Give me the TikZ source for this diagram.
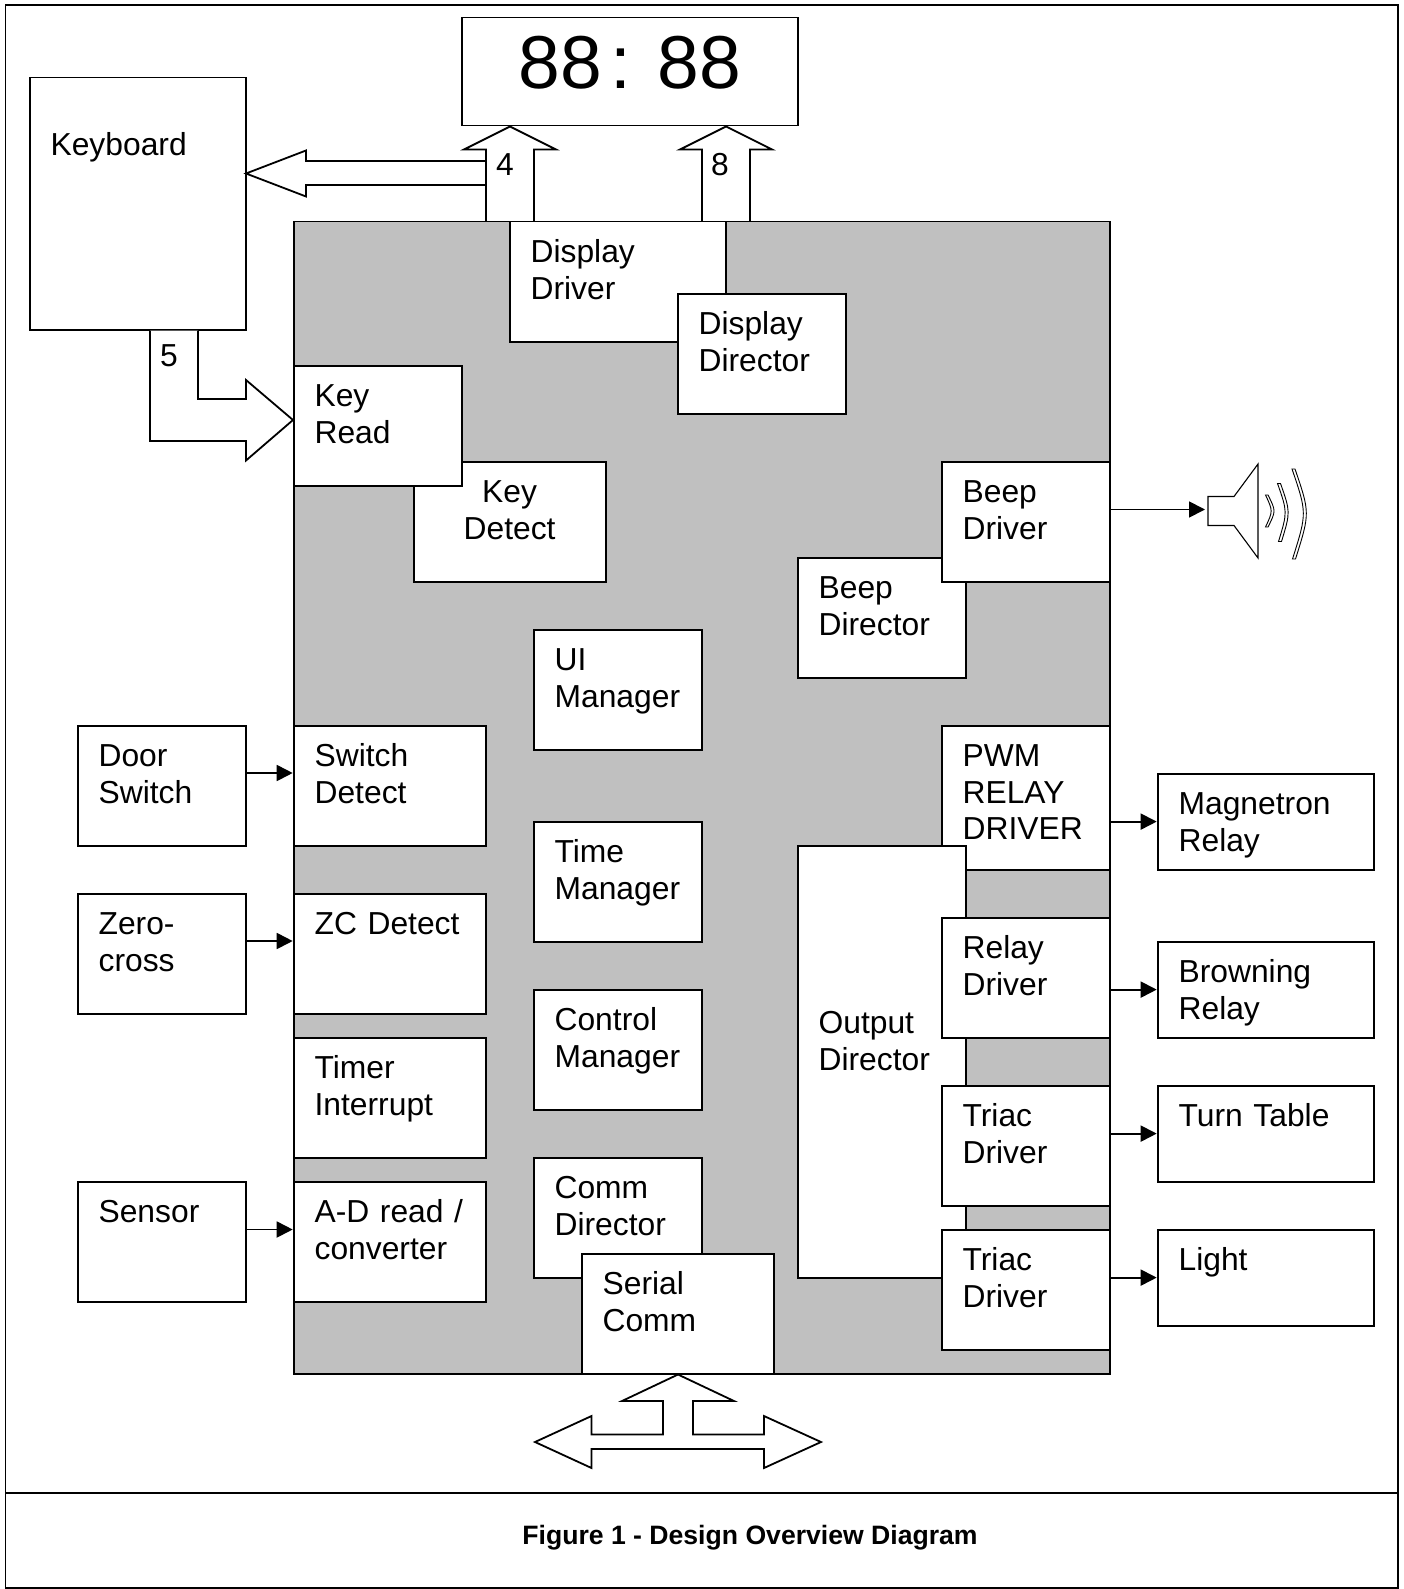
\documentclass[tikz,border=0pt]{standalone}
\usepackage{fontspec}
\setmainfont{Liberation Sans}
\usetikzlibrary{arrows.meta}

\begin{document}
\begin{tikzpicture}[
    x=1pt, y=-1pt,
    line width=1.8pt,
    font=\fontsize{31.8}{36.5}\selectfont,
    block/.style 2 args={draw, fill=white, anchor=north west, align=left, inner xsep=21pt, inner ysep=0pt,
      xshift=-1.3pt, yshift=1.3pt, text width=#1pt-42pt, text height=41.3pt, text depth=#2pt-41.3pt},
    chip/.style={fill={rgb,255:red,192;green,192;blue,192}},
    bus/.style={fill=white, line join=miter},
    sig/.style={-{Triangle[length=16pt,width=16pt]}},
    lab/.style={inner sep=0pt},
    horn/.style={line width=1.1pt},
    wave/.style={line width=0.9pt, fill=white}
  ]
    \useasboundingbox (0,0) rectangle (1404,1589);
    \draw (5.5,5) rectangle (1398,1588);
    \draw (5.5,1493) -- (1398,1493);

    % display and keyboard
    \node[block={336}{108}, align=center, font=\fontsize{75}{90}\selectfont, text height=71pt, text depth=37pt] (display) at (462,18) {88\hspace{9pt}:\hspace{25.9pt}88};
    \node[block={216}{252}, text height=78pt, text depth=174pt] (keyboard) at (30,78) {Keyboard};

    % bus arrows
    \filldraw[bus] (486,161) -- (306,161) -- (306,150.5) -- (246,173.5) -- (306,196.5) -- (306,185) -- (486,185);
    \filldraw[bus] (486,222) -- (486,149.5) -- (464,149.5) -- (510,0 |- display.south) -- (556,149.5) -- (534,149.5) -- (534,222);
    \filldraw[bus] (702,222) -- (702,149.5) -- (680,149.5) -- (726,0 |- display.south) -- (772,149.5) -- (750,149.5) -- (750,222);
    \filldraw[bus] (198,0 |- keyboard.south) -- (198,399) -- (246,399) -- (246,380) -- (293,420) -- (246,460.5) -- (246,441) -- (150,441) -- (150,0 |- keyboard.south);

    \node[block={816}{1152}, chip] (mcu) at (294,222) {};

    \node[block={216}{120}] (dispdriver) at (510,222) {Display\\Driver};
    \node[block={168}{120}] (dispdirector) at (678,294) {Display\\Director};
    \node[block={192}{120}, align=center] (keydetect) at (414,462) {Key\\Detect};
    \node[block={168}{120}] (keyread) at (294,366) {Key\\Read};
    \node[block={168}{120}] (beepdirector) at (798,558) {Beep\\Director};
    \node[block={168}{120}] (beepdriver) at (942,462) {Beep\\Driver};

    \node[block={168}{120}] (uiman) at (534,630) {UI\\Manager};
    \node[block={168}{120}] (timeman) at (534,822) {Time\\Manager};
    \node[block={168}{120}] (ctrlman) at (534,990) {Control\\Manager};
    \node[block={168}{120}] (commdirector) at (534,1158) {Comm\\Director};
    \node[block={192}{120}] (serial) at (582,1254) {Serial\\Comm};

    \node[block={192}{120}] (swdetect) at (294,726) {Switch\\Detect};
    \node[block={192}{120}] (zcdetect) at (294,894) {ZC Detect};
    \node[block={192}{120}] (timerint) at (294,1038) {Timer\\Interrupt};
    \node[block={192}{120}] (adread) at (294,1182) {A-D read /\\converter};

    \node[block={168}{144}] (pwm) at (942,726) {PWM\\RELAY\\DRIVER};
    \node[block={168}{432}, text height=188pt, text depth=244pt] (outdirector) at (798,846) {Output\\Director};
    \node[block={168}{120}] (relay) at (942,918) {Relay\\Driver};
    \node[block={168}{120}] (triaca) at (942,1086) {Triac\\Driver};
    \node[block={168}{120}] (triacb) at (942,1230) {Triac\\Driver};

    % outside the chip
    \node[block={168}{120}] (door) at (78,726) {Door\\Switch};
    \node[block={168}{120}] (zero) at (78,894) {Zero-\\cross};
    \node[block={168}{120}] (sensor) at (78,1182) {Sensor};
    \node[block={216}{96}] (magnetron) at (1158,774) {Magnetron\\Relay};
    \node[block={216}{96}] (browning) at (1158,942) {Browning\\Relay};
    \node[block={216}{96}] (turntable) at (1158,1086) {Turn Table};
    \node[block={216}{96}] (light) at (1158,1230) {Light};

    \draw[sig] (door.east |- 0,773) -- (swdetect.west |- 0,773);
    \draw[sig] (zero.east |- 0,941) -- (zcdetect.west |- 0,941);
    \draw[sig] (sensor.east |- 0,1229.5) -- (adread.west |- 0,1229.5);
    \draw[sig] (pwm.east |- magnetron.west) -- (magnetron.west);
    \draw[sig] (relay.east |- browning.west) -- (browning.west);
    \draw[sig] (triaca.east |- turntable.west) -- (turntable.west);
    \draw[sig] (triacb.east |- light.west) -- (light.west);

    % speaker
    \coordinate (speakerin) at (1205,509.5);
    \draw[sig] (beepdriver.east |- speakerin) -- (speakerin);
    \draw[horn] (1208,496.5) -- (1234,496.5) -- (1258,464) -- (1258,558) -- (1234,525.5) -- (1208,525.5) -- cycle;
    \draw[wave] (1268,495) .. controls (1276,511) .. (1268,527) -- (1265.5,527) .. controls (1273,511) .. (1265.5,495) -- cycle;
    \draw[wave] (1280.5,483.5) .. controls (1290.5,512) .. (1281.5,541.5) -- (1278.5,541.5) .. controls (1287.5,512) .. (1277.5,483.5) -- cycle;
    \draw[wave] (1295,469) .. controls (1310,513) .. (1295.5,559) -- (1292.5,559) .. controls (1307,513) .. (1292,469) -- cycle;

    % serial bus
    \filldraw[bus] (678,0 |- serial.south) -- (734,1401) -- (693,1401) -- (693,1434.5) -- (764,1434.5) -- (764,1416) -- (821,1442) -- (764,1468) -- (764,1449) -- (591.5,1449) -- (591.5,1468) -- (535,1442) -- (591.5,1416) -- (591.5,1434.5) -- (663,1434.5) -- (663,1401) -- (622,1401) -- cycle;

    \node[lab] (fourlab) at (505,165) {4};
    \node[lab] (eightlab) at (720,165) {8};
    \node[lab] (fivelab) at (169,356) {5};
    \node[lab, font=\fontsize{26.6}{30}\selectfont\bfseries] (caption) at (750,1538) {Figure 1 - Design Overview Diagram};
  \end{tikzpicture}
\end{document}
